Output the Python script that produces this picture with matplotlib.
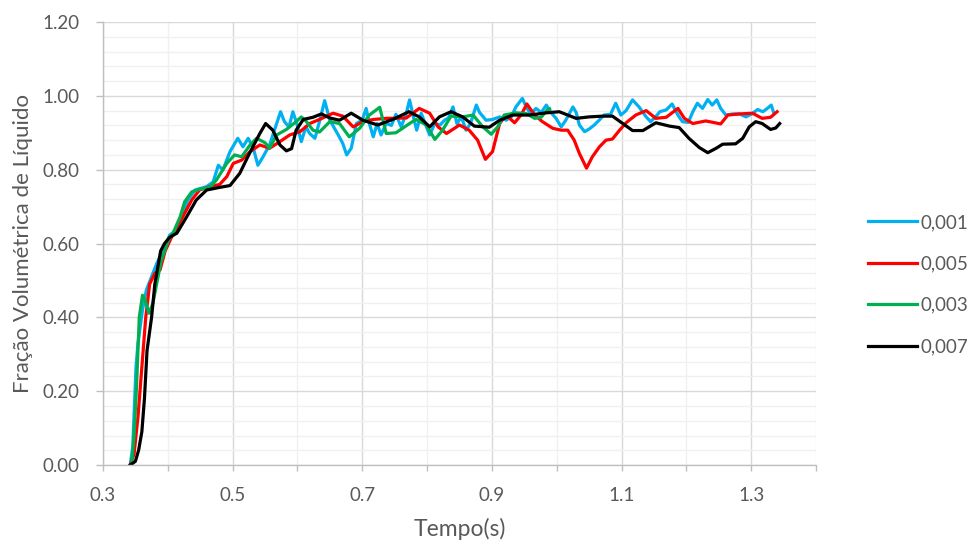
import matplotlib
matplotlib.use('Agg')
import matplotlib.pyplot as plt
from matplotlib.ticker import MultipleLocator, FixedLocator, FormatStrFormatter

# dt = 0,001
t_001 = [0.342, 0.346, 0.351, 0.354, 0.361, 0.367, 0.375, 0.383, 0.393, 0.403, 0.414, 0.421,
         0.431, 0.442, 0.460, 0.470, 0.478, 0.485, 0.496, 0.508, 0.516, 0.524, 0.532, 0.539,
         0.547, 0.557, 0.568, 0.574, 0.580, 0.587, 0.593, 0.599, 0.606, 0.613, 0.619, 0.627,
         0.634, 0.642, 0.650, 0.663, 0.670, 0.676, 0.683, 0.691, 0.700, 0.706, 0.711, 0.717,
         0.723, 0.729, 0.737, 0.745, 0.752, 0.760, 0.768, 0.773, 0.779, 0.784, 0.791, 0.797,
         0.804, 0.812, 0.820, 0.827, 0.833, 0.840, 0.846, 0.853, 0.860, 0.867, 0.876, 0.881,
         0.891, 0.901, 0.912, 0.922, 0.930, 0.937, 0.947, 0.953, 0.960, 0.968, 0.976, 0.984,
         0.991, 0.999, 1.007, 1.014, 1.025, 1.030, 1.035, 1.043, 1.050, 1.058, 1.066, 1.073,
         1.083, 1.091, 1.099, 1.107, 1.117, 1.127, 1.138, 1.145, 1.155, 1.159, 1.169, 1.178,
         1.187, 1.194, 1.203, 1.210, 1.217, 1.225, 1.233, 1.240, 1.247, 1.253, 1.261, 1.272,
         1.282, 1.292, 1.301, 1.310, 1.318, 1.325, 1.331, 1.335]
f_001 = [0.000, 0.050, 0.266, 0.330, 0.420, 0.474, 0.510, 0.546, 0.582, 0.623, 0.637, 0.672,
         0.718, 0.745, 0.754, 0.767, 0.812, 0.799, 0.849, 0.885, 0.862, 0.885, 0.858, 0.812,
         0.835, 0.867, 0.925, 0.957, 0.930, 0.916, 0.957, 0.925, 0.876, 0.916, 0.898, 0.885,
         0.930, 0.987, 0.934, 0.894, 0.871, 0.840, 0.858, 0.925, 0.934, 0.966, 0.925, 0.889,
         0.925, 0.894, 0.925, 0.920, 0.950, 0.916, 0.953, 0.989, 0.943, 0.907, 0.953, 0.925,
         0.894, 0.925, 0.921, 0.934, 0.940, 0.970, 0.925, 0.943, 0.907, 0.925, 0.975, 0.955,
         0.934, 0.936, 0.943, 0.934, 0.943, 0.970, 0.993, 0.970, 0.950, 0.966, 0.955, 0.975,
         0.955, 0.939, 0.916, 0.934, 0.970, 0.955, 0.921, 0.903, 0.910, 0.921, 0.935, 0.948,
         0.950, 0.980, 0.948, 0.960, 0.989, 0.970, 0.943, 0.930, 0.948, 0.957, 0.962, 0.978,
         0.948, 0.930, 0.928, 0.957, 0.980, 0.966, 0.990, 0.975, 0.989, 0.966, 0.948, 0.951,
         0.951, 0.943, 0.951, 0.963, 0.957, 0.966, 0.975, 0.953]

# dt = 0,005
t_005 = [0.342, 0.348, 0.354, 0.362, 0.366, 0.372, 0.380, 0.388, 0.396, 0.406, 0.423, 0.437,
         0.449, 0.465, 0.480, 0.491, 0.501, 0.514, 0.527, 0.542, 0.557, 0.573, 0.588, 0.604,
         0.619, 0.634, 0.655, 0.670, 0.686, 0.701, 0.717, 0.737, 0.768, 0.788, 0.804, 0.817,
         0.830, 0.850, 0.865, 0.878, 0.890, 0.901, 0.912, 0.922, 0.935, 0.945, 0.954, 0.966,
         0.978, 0.994, 1.007, 1.017, 1.027, 1.035, 1.046, 1.055, 1.066, 1.076, 1.086, 1.097,
         1.107, 1.122, 1.138, 1.153, 1.169, 1.187, 1.197, 1.210, 1.230, 1.253, 1.264, 1.282,
         1.302, 1.317, 1.330, 1.340]
f_005 = [0.000, 0.030, 0.130, 0.310, 0.400, 0.490, 0.519, 0.528, 0.580, 0.618, 0.672, 0.718,
         0.745, 0.754, 0.760, 0.781, 0.817, 0.826, 0.849, 0.867, 0.858, 0.876, 0.894, 0.903,
         0.925, 0.936, 0.953, 0.945, 0.916, 0.930, 0.936, 0.939, 0.940, 0.966, 0.953, 0.916,
         0.898, 0.921, 0.907, 0.880, 0.828, 0.849, 0.925, 0.948, 0.927, 0.948, 0.978, 0.948,
         0.930, 0.912, 0.907, 0.907, 0.880, 0.844, 0.804, 0.835, 0.862, 0.880, 0.883, 0.907,
         0.927, 0.948, 0.960, 0.939, 0.942, 0.966, 0.939, 0.925, 0.932, 0.924, 0.948, 0.951,
         0.953, 0.939, 0.942, 0.957]

# dt = 0,003
t_003 = [0.344, 0.348, 0.352, 0.356, 0.361, 0.365, 0.371, 0.377, 0.383, 0.390, 0.401, 0.408,
         0.419, 0.426, 0.437, 0.449, 0.465, 0.475, 0.491, 0.503, 0.514, 0.527, 0.537, 0.550,
         0.557, 0.568, 0.583, 0.598, 0.606, 0.614, 0.624, 0.634, 0.650, 0.665, 0.680, 0.696,
         0.711, 0.727, 0.737, 0.752, 0.773, 0.783, 0.799, 0.812, 0.824, 0.837, 0.855, 0.871,
         0.886, 0.899, 0.909, 0.919, 0.937, 0.953, 0.966, 0.976, 0.986, 0.989]
f_003 = [0.000, 0.080, 0.221, 0.400, 0.460, 0.447, 0.411, 0.438, 0.492, 0.555, 0.609, 0.628,
         0.672, 0.713, 0.740, 0.747, 0.752, 0.772, 0.817, 0.840, 0.835, 0.867, 0.885, 0.873,
         0.858, 0.894, 0.909, 0.930, 0.943, 0.930, 0.907, 0.902, 0.930, 0.925, 0.889, 0.912,
         0.948, 0.969, 0.898, 0.900, 0.925, 0.936, 0.921, 0.882, 0.907, 0.945, 0.943, 0.948,
         0.916, 0.896, 0.916, 0.948, 0.954, 0.952, 0.939, 0.942, 0.963, 0.965]

# dt = 0,007
t_007 = [0.342, 0.350, 0.355, 0.360, 0.364, 0.368, 0.375, 0.380, 0.389, 0.395, 0.403, 0.414,
         0.429, 0.444, 0.460, 0.480, 0.496, 0.511, 0.526, 0.542, 0.551, 0.562, 0.573, 0.583,
         0.591, 0.598, 0.609, 0.624, 0.637, 0.650, 0.665, 0.683, 0.701, 0.724, 0.747, 0.772,
         0.788, 0.804, 0.819, 0.837, 0.855, 0.873, 0.896, 0.912, 0.932, 0.958, 0.984, 1.004,
         1.030, 1.050, 1.071, 1.086, 1.102, 1.117, 1.133, 1.153, 1.174, 1.189, 1.204, 1.220,
         1.233, 1.246, 1.256, 1.276, 1.287, 1.297, 1.307, 1.317, 1.330, 1.338, 1.344]
f_007 = [0.000, 0.010, 0.040, 0.090, 0.180, 0.310, 0.400, 0.490, 0.580, 0.600, 0.617, 0.628,
         0.672, 0.718, 0.745, 0.752, 0.757, 0.790, 0.844, 0.898, 0.925, 0.907, 0.867, 0.851,
         0.857, 0.907, 0.936, 0.942, 0.951, 0.940, 0.934, 0.953, 0.934, 0.921, 0.936, 0.957,
         0.943, 0.916, 0.943, 0.957, 0.943, 0.918, 0.915, 0.934, 0.948, 0.948, 0.954, 0.957,
         0.939, 0.943, 0.945, 0.945, 0.925, 0.906, 0.906, 0.927, 0.918, 0.914, 0.885, 0.860,
         0.846, 0.858, 0.869, 0.870, 0.885, 0.916, 0.930, 0.925, 0.909, 0.913, 0.925]

series = [
    ('0,001', t_001, f_001, '#00B0F0'),
    ('0,005', t_005, f_005, '#FF0000'),
    ('0,003', t_003, f_003, '#00B050'),
    ('0,007', t_007, f_007, '#000000'),
]

x_major = [0.3, 0.5, 0.7, 0.9, 1.1, 1.3]

TEXT = '#595959'
plt.rcParams['font.family'] = ['Lato', 'DejaVu Sans']

fig = plt.figure(figsize=(9.75, 5.42), dpi=100)
ax = fig.add_axes([0.1056, 0.142, 0.7313, 0.8174])

for label, t, f, color in series:
    ax.plot(t, f, color=color, lw=2.3, label=label, solid_joinstyle='round')

ax.set_xlim(0.3, 1.4)
ax.set_ylim(0, 1.2)
ax.xaxis.set_major_locator(FixedLocator(x_major))
ax.xaxis.set_minor_locator(MultipleLocator(0.1))
ax.yaxis.set_major_locator(MultipleLocator(0.2))
ax.yaxis.set_minor_locator(MultipleLocator(0.04))
ax.xaxis.set_major_formatter(FormatStrFormatter('%.1f'))
ax.yaxis.set_major_formatter(FormatStrFormatter('%.2f'))

ax.grid(which='major', color='#D9D9D9', lw=1.0)
ax.grid(which='minor', color='#F0F0F0', lw=1.0)
ax.set_axisbelow(True)

for side in ['top', 'right']:
    ax.spines[side].set_visible(False)
for side in ['left', 'bottom']:
    ax.spines[side].set_color('#BFBFBF')
    ax.spines[side].set_linewidth(1.0)

ax.tick_params(axis='both', which='both', colors='#BFBFBF', labelcolor=TEXT, labelsize=13.5)
ax.tick_params(axis='y', which='major', length=5, width=1, pad=12)
ax.tick_params(axis='y', which='minor', length=0)
ax.tick_params(axis='x', which='both', length=4, width=1, pad=12)

ax.set_xlabel('Tempo(s)', color=TEXT, fontsize=16.5, labelpad=10)
ax.set_ylabel('Fração Volumétrica de Líquido', color=TEXT, fontsize=16, labelpad=7)

leg = fig.legend(loc='center left', bbox_to_anchor=(868 / 975, 0.475), frameon=False,
                 fontsize=13.5, handlelength=2.6, handletextpad=0.2, labelspacing=1.3,
                 borderpad=0, borderaxespad=0)
for txt in leg.get_texts():
    txt.set_color(TEXT)

fig.savefig('out.png', dpi=100)
